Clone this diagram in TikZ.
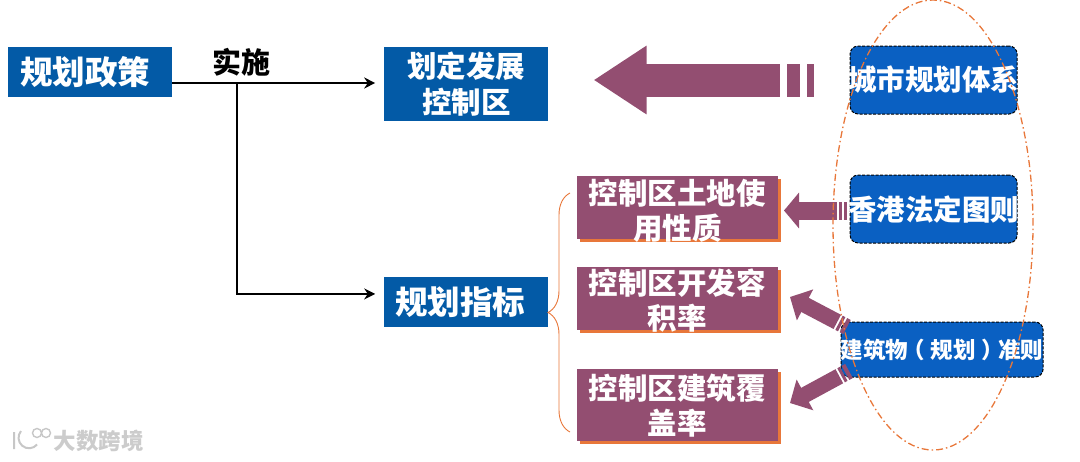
\documentclass[tikz,border=0pt]{standalone}
\usepackage{fontspec}
\usetikzlibrary{positioning, arrows.meta, shapes.geometric, shadows, decorations.pathreplacing}
\newfontfamily\cjk{Noto Sans CJK SC}
\newcommand{\metrictext}[3]{\raisebox{#1}[0pt][0pt]{\parbox{201pt}{\centering #2\\#3}}}
\newcommand{\openparen}{\makebox[1em][l]{\hspace*{-.25em}（}}
\newcommand{\closeparen}{\makebox[1em][r]{）\hspace*{-.25em}}}
\definecolor{planBlue}{HTML}{035AA6}
\definecolor{normBlue}{HTML}{0A60C2}
\definecolor{zoneMauve}{HTML}{934E71}
\definecolor{edgeOrange}{HTML}{E8773A}

\begin{document}
\begin{tikzpicture}[x=1pt, y=1pt, font=\cjk\bfseries, node distance=28pt,
  policy/.style={fill=planBlue, text=white, inner sep=0pt, minimum width=164pt, align=center},
  metric/.style={fill=zoneMauve, text=white, inner sep=0pt, minimum width=201pt,
    font=\cjk\bfseries\fontsize{29.5}{35}\selectfont,
    general shadow={fill=edgeOrange, shadow xshift=3pt, shadow yshift=-3pt}},
  norm/.style={draw=black, dash pattern=on 3pt off 1.5pt, line width=1pt, fill=normBlue, text=white,
    rounded corners=8pt, inner sep=0pt, font=\cjk\bfseries\fontsize{28.5}{34}\selectfont},
  arr/.style={-{Stealth[length=11pt, width=11pt]}, line width=2.3pt},
  fat/.style={draw=zoneMauve, line cap=butt}]

\useasboundingbox (0,0) rectangle (1080,-461);

\node[policy, minimum height=50pt, font=\cjk\bfseries\fontsize{32.5}{38}\selectfont] (plan) at (90,-72) {规划政策\hspace*{10pt}};
\node[policy, minimum height=74pt, font=\cjk\bfseries\fontsize{29.5}{36}\selectfont, right=212pt of plan, yshift=-12pt] (zone) {划定发展\\控制区};
\node[policy, minimum height=50pt, font=\cjk\bfseries\fontsize{32.5}{38}\selectfont, below=156pt of zone] (index) {规划指标\hspace*{12pt}};

\node[metric, minimum height=63pt, right=of index, yshift=95pt] (land) {\metrictext{-10pt}{控制区土地使}{用性质}};
\node[metric, minimum height=63pt, below=28pt of land] (far) {\metrictext{-8pt}{控制区开发容}{积率}};
\node[metric, minimum height=72pt, below=38pt of far] (cover) {\metrictext{-7pt}{控制区建筑覆}{盖率}};

\node[norm, minimum width=167pt, minimum height=68pt, right=301pt of zone, yshift=4pt] (sys) {\makebox[0pt]{城市规划体系}};
\node[norm, minimum width=167pt, minimum height=68pt, below=60pt of sys] (hk) {\makebox[0pt]{香港法定图则}};
\node[norm, minimum width=202pt, minimum height=55pt, below=78pt of hk, xshift=8.5pt,
  font=\cjk\bfseries\fontsize{22.5}{28}\selectfont] (build) {\makebox[0pt]{建筑物\openparen 规划\closeparen 准则}};

\node[font=\cjk\bfseries\fontsize{29}{34}\selectfont] (act) at (241,-62) {实施};

\coordinate (turn) at (237,-83);
\coordinate (idxin) at ([yshift=8.5pt]index.west);
\draw[arr, shorten >=9pt] (plan.east |- turn) -- (turn -| zone.west);
\draw[arr, shorten >=9pt] (turn) |- (idxin);

% hollow arrows, the tail stripes come from the dash pattern
\draw[fat, line width=33pt, -{Triangle[length=53pt, width=65pt]}, shorten <=36pt, shorten >=45pt,
  dash pattern=on 7pt off 7pt on 13pt off 7pt on 600pt] (sys.west) -- (sys.west -| zone.east);
\draw[fat, line width=18pt, -{Triangle[length=15pt, width=35pt]}, shorten <=3pt, shorten >=6pt,
  dash pattern=on 3pt off 2pt on 3pt off 2pt on 300pt] ([yshift=-1.5pt]hk.west) -- ([yshift=-1.5pt]hk.west -| land.east);

\coordinate (farin) at (790,-297);
\coordinate (farout) at (847,-327);
\coordinate (coverin) at (790,-403);
\coordinate (coverout) at (849,-371);
\draw[fat, line width=16pt, -{Triangle[length=17pt, width=34pt]},
  dash pattern=on 4pt off 2pt on 3pt off 2pt on 300pt] (farout) -- (farin);
\draw[fat, line width=16pt, -{Triangle[length=17pt, width=34pt]},
  dash pattern=on 4pt off 2pt on 3pt off 2pt on 300pt] (coverout) -- (coverin);

\coordinate (bracelow) at (570,-432);
\coordinate (bracetop) at (570,-193);
\draw[edgeOrange, line width=0.9pt, decorate, decoration={brace, amplitude=22pt}] (bracelow) -- (bracetop);

\node[draw=edgeOrange, line width=1.3pt, dash pattern=on 7pt off 3pt on 1.5pt off 3pt, ellipse,
  minimum width=200pt, minimum height=450pt, inner sep=0pt] (ring) at (933,-225) {};

% watermark
\node[text=black!20, font=\cjk\bfseries\fontsize{22.5}{26}\selectfont, anchor=west] (mark) at (50,-441) {大数跨境};
\draw[black!22, line width=2pt] (14,-432) -- (14,-449) (21,-431) arc[start angle=140, end angle=320, radius=10.5pt];
\draw[black!22, line width=1.4pt] (37,-433) circle[radius=4.5pt] (46,-433) circle[radius=4.5pt];

\end{tikzpicture}
\end{document}
